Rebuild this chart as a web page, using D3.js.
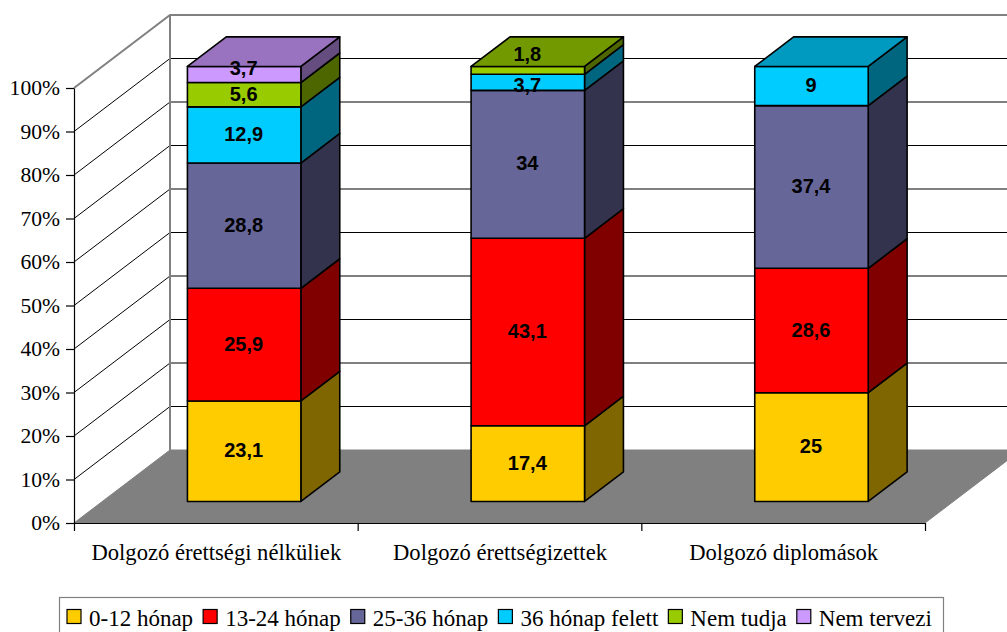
<!doctype html>
<html>

<head>
    <meta charset="utf-8">
    <title>Dolgozók</title>
    <style>
    html, body {
        margin: 0;
        background: #fff;
    }

    svg {
        display: block;
    }

    .axis text,
    .legend text {
        font: 22.6px "Liberation Serif", serif;
        fill: #000;
    }

    .legend text {
        font-size: 23px;
    }

    .axis.yaxis text {
        font-size: 21.6px;
    }

    .axis path,
    .axis line {
        stroke: #000;
        stroke-width: 1.2px;
    }

    .grid {
        stroke: #000;
        stroke-width: 1px;
        fill: none;
    }

    .wall {
        stroke: #808080;
        stroke-width: 2px;
        fill: none;
    }

    .seg {
        stroke: #000;
        stroke-width: 1.6px;
        stroke-linejoin: round;
    }

    .label {
        font: bold 20px "Liberation Sans", sans-serif;
        text-anchor: middle;
        fill: #000;
    }
    </style>
    <script src="https://cdn.jsdelivr.net/npm/d3@7"></script>
</head>

<body>
    <script>
    var categories = ["Dolgozó érettségi nélküliek", "Dolgozó érettségizettek", "Dolgozó diplomások"];
    var seriesNames = ["0-12 hónap", "13-24 hónap", "25-36 hónap", "36 hónap felett", "Nem tudja", "Nem tervezi"];
    var seriesColors = ["#ffcc00", "#ff0000", "#666699", "#00ccff", "#99cc00", "#cc99ff"];

    var months0to12 = [23.1, 17.4, 25];
    var months13to24 = [25.9, 43.1, 28.6];
    var months25to36 = [28.8, 34, 37.4];
    var monthsOver36 = [12.9, 3.7, 9];
    var dontKnow = [5.6, 1.8, 0];
    var notPlanning = [3.7, 0, 0];

    var allSeries = [months0to12, months13to24, months25to36, monthsOver36, dontKnow, notPlanning];

    var width = 1007,
        height = 632,
        depthX = 96,
        depthY = 73;

    var rows = categories.map(function(c, i) {
        var row = { category: c };
        seriesNames.forEach(function(s, j) { row[s] = allSeries[j][i]; });
        return row;
    });

    var stacked = d3.stack().keys(seriesNames)(rows);

    var x = d3.scaleBand()
        .domain(categories)
        .range([74, 925])
        .paddingInner(0.6)
        .paddingOuter(0.3);

    var xEdges = d3.scaleLinear().domain([0, 3]).range([74, 925]);
    var xCenters = d3.scalePoint().domain(categories).range([74, 925]).padding(0.5);

    var y = d3.scaleLinear().domain([0, 100]).range([523, 88]);

    // oblique projection, d = 0 front of the floor, d = 1 back wall
    function px(xv, d) { return xv + d * depthX; }
    function py(v, d) { return y(v) - d * depthY; }

    function poly(points) {
        return "M" + points.map(function(p) { return p.join(","); }).join("L") + "Z";
    }

    function darker(c, k) {
        var r = d3.rgb(c);
        return d3.rgb(r.r * k, r.g * k, r.b * k).formatHex();
    }

    var svg = d3.select("body").append("svg")
        .attr("width", width)
        .attr("height", height);

    // floor
    svg.append("path")
        .attr("d", poly([[px(74, 0), py(0, 0)], [px(925, 0), py(0, 0)], [px(925, 1), py(0, 1)], [px(74, 1), py(0, 1)]]))
        .attr("fill", "#808080")
        .attr("stroke", "#808080");

    // gridlines, left wall then back wall
    var gridValues = d3.range(10, 100, 10);

    svg.selectAll(".gridLeft")
        .data(gridValues)
        .enter().append("line")
        .attr("class", "grid")
        .attr("x1", px(74, 0)).attr("x2", px(74, 1))
        .attr("y1", function(d) { return py(d, 0); })
        .attr("y2", function(d) { return py(d, 1); });

    svg.selectAll(".gridBack")
        .data(gridValues)
        .enter().append("line")
        .attr("class", "grid")
        .attr("x1", px(74, 1)).attr("x2", px(925, 1))
        .attr("y1", function(d) { return py(d, 1); })
        .attr("y2", function(d) { return py(d, 1); });

    // wall borders
    svg.append("path")
        .attr("class", "wall")
        .attr("d", "M" + px(74, 0) + "," + py(100, 0) + "L" + px(74, 1) + "," + py(100, 1) + "L" + px(925, 1) + "," + py(100, 1));
    svg.append("line")
        .attr("class", "wall")
        .attr("x1", px(74, 1)).attr("x2", px(74, 1))
        .attr("y1", py(100, 1)).attr("y2", py(0, 1));

    // axes
    svg.append("g")
        .attr("class", "axis yaxis")
        .attr("transform", "translate(74,0)")
        .call(d3.axisLeft(y)
            .tickValues(d3.range(0, 101, 10))
            .tickFormat(function(d) { return d + "%"; })
            .tickSize(8)
            .tickSizeOuter(0)
            .tickPadding(6));

    svg.append("g")
        .attr("class", "axis")
        .attr("transform", "translate(0,523)")
        .call(d3.axisBottom(xEdges)
            .ticks(3)
            .tickFormat("")
            .tickSize(8)
            .tickSizeOuter(0));

    var catAxis = svg.append("g")
        .attr("class", "axis")
        .attr("transform", "translate(0,523)")
        .call(d3.axisBottom(xCenters).tickSize(0).tickPadding(21));
    catAxis.select(".domain").remove();

    // bars, one column at a time so that later faces sit on top
    var front = 0.295,
        back = 0.7;

    categories.forEach(function(cat, i) {
        var x0 = x(cat),
            x1 = x0 + x.bandwidth();
        var g = svg.append("g").attr("class", "bar");

        stacked.forEach(function(s, j) {
            var v0 = s[i][0],
                v1 = s[i][1];
            if (v1 - v0 <= 0) return;
            var color = seriesColors[j];

            g.append("path")
                .attr("class", "seg")
                .attr("fill", darker(color, 0.5))
                .attr("d", poly([[px(x1, front), py(v0, front)], [px(x1, back), py(v0, back)], [px(x1, back), py(v1, back)], [px(x1, front), py(v1, front)]]));

            g.append("path")
                .attr("class", "seg")
                .attr("fill", color)
                .attr("d", poly([[px(x0, front), py(v0, front)], [px(x1, front), py(v0, front)], [px(x1, front), py(v1, front)], [px(x0, front), py(v1, front)]]));

            // only the last non-empty series shows its top face
            if (v1 >= 99.95) {
                g.append("path")
                    .attr("class", "seg")
                    .attr("fill", darker(color, 0.75))
                    .attr("d", poly([[px(x0, front), py(v1, front)], [px(x1, front), py(v1, front)], [px(x1, back), py(v1, back)], [px(x0, back), py(v1, back)]]));
            }
        });
    });

    // small segments have their labels pushed off centre in the original
    function labelNudge(i, j) {
        if (i === 0 && j === 5) return -6;
        if (i === 1 && j === 4) return -15;
        if (i === 1 && j === 3) return 4;
        return 0;
    }

    categories.forEach(function(cat, i) {
        stacked.forEach(function(s, j) {
            var v0 = s[i][0],
                v1 = s[i][1];
            if (v1 - v0 <= 0) return;
            svg.append("text")
                .attr("class", "label")
                .attr("x", px(x(cat) + x.bandwidth() / 2, front) - 0.5)
                .attr("y", py((v0 + v1) / 2, front) + labelNudge(i, j))
                .attr("dy", "0.3em")
                .text(String(allSeries[j][i]).replace(".", ","));
        });
    });

    // legend
    var legend = svg.append("g").attr("class", "legend");

    legend.append("rect")
        .attr("x", 59.5).attr("y", 597.5)
        .attr("width", 884).attr("height", 60)
        .attr("fill", "#fff")
        .attr("stroke", "#808080")
        .attr("stroke-width", 1.2);

    var cursor = 67;
    seriesNames.forEach(function(name, j) {
        legend.append("rect")
            .attr("x", cursor).attr("y", 609.5)
            .attr("width", 14).attr("height", 14)
            .attr("fill", seriesColors[j])
            .attr("stroke", "#000")
            .attr("stroke-width", 1.2);
        var t = legend.append("text")
            .attr("x", cursor + 22)
            .attr("y", 626)
            .text(name);
        cursor += 22 + t.node().getComputedTextLength() + 10;
    });
    </script>
</body>

</html>
